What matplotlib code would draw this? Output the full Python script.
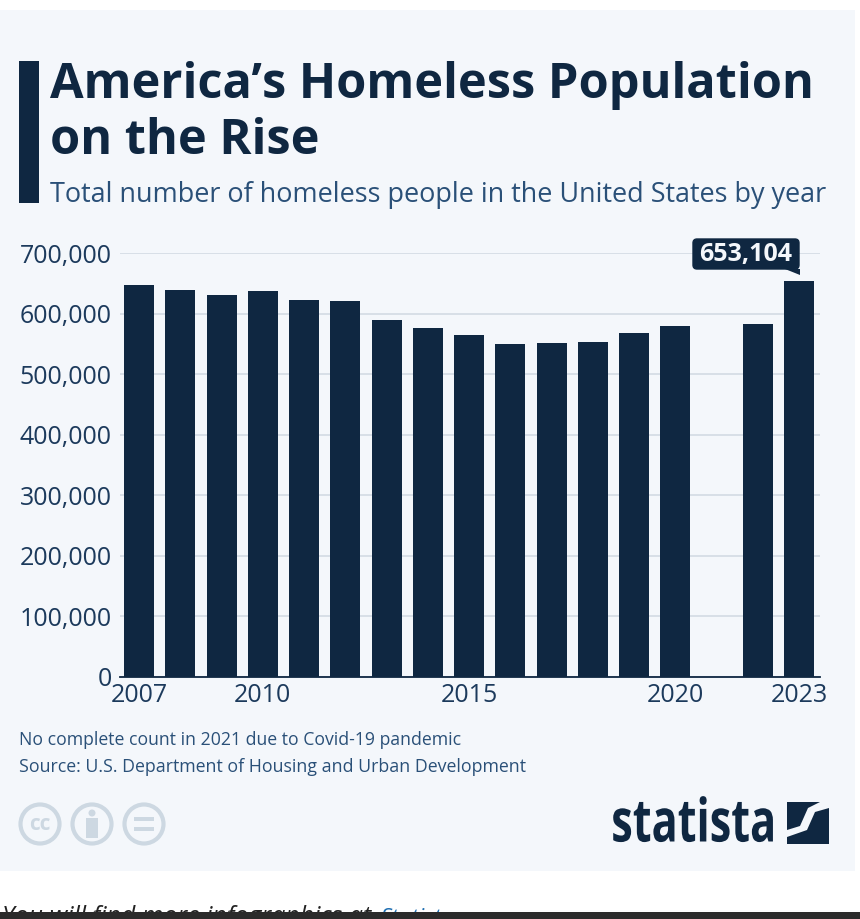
import matplotlib
matplotlib.use("Agg")
import matplotlib.pyplot as plt
from matplotlib.patches import Rectangle, FancyBboxPatch, Polygon, Circle
from matplotlib.patheffects import AbstractPathEffect
from matplotlib.transforms import Affine2D

plt.rcParams['font.family'] = ['Open Sans', 'DejaVu Sans']

years = [2007, 2008, 2009, 2010, 2011, 2012, 2013, 2014, 2015, 2016, 2017, 2018, 2019, 2020, 2022, 2023]
homeless = [647000, 639000, 630000, 637000, 623000, 621000, 590000, 576000, 565000, 550000, 551000, 553000, 568000, 580000, 582000, 653104]
y_ticks = [0, 100000, 200000, 300000, 400000, 500000, 600000, 700000]
x_ticks = [2007, 2010, 2015, 2020, 2023]
subtitle = "Total number of homeless people in the United States by year"
note = "No complete count in 2021 due to Covid-19 pandemic"
source = "Source: U.S. Department of Housing and Urban Development"
callout = "653,104"

W, H = 860, 919
NAVY = "#0f2741"
BLUE = "#2a5078"
AXTXT = "#1c3a5c"
BG = "#f4f7fb"
GRID = "#d3dbe4"
ICON = "#cdd8e2"


class Squeeze(AbstractPathEffect):
    """Narrow a text horizontally about a pixel column, keeping it a text."""

    def __init__(self, x0, sx):
        super().__init__()
        self.x0, self.sx = x0, sx

    def draw_path(self, renderer, gc, tpath, affine, rgbFace=None):
        squeeze = Affine2D().translate(-self.x0, 0).scale(self.sx, 1).translate(self.x0, 0)
        renderer.draw_path(gc, tpath, affine + squeeze, rgbFace)


fig = plt.figure(figsize=(W / 100, H / 100), dpi=100, facecolor="white")
bg = fig.add_axes([0, 0, 1, 1])
bg.set_xlim(0, W)
bg.set_ylim(H, 0)
bg.axis("off")

bg.add_patch(Rectangle((0, 10), 855, 860.5, fc=BG, ec="none"))
bg.add_patch(Rectangle((19, 61), 20, 142, fc=NAVY, ec="none"))
bg.text(50, 85, "America\u2019s Homeless Population", fontsize=35.1, fontweight="bold", color=NAVY, va="center")
bg.text(50, 141, "on the Rise", fontsize=35.1, fontweight="bold", color=NAVY, va="center")
bg.text(50, 195, subtitle, fontsize=19.45, color=BLUE, va="center")
bg.text(19, 740, note, fontsize=12.7, color=BLUE, va="center")
bg.text(19, 767, source, fontsize=12.75, color=BLUE, va="center")

# cc icons
for cx in (40, 92, 144):
    bg.add_patch(Circle((cx, 824), 19.5, fc="none", ec=ICON, lw=3))
bg.text(40, 824, "cc", fontsize=15, fontweight="bold", color=ICON, ha="center", va="center")
bg.add_patch(Circle((92, 813), 3.5, fc=ICON, ec="none"))
bg.add_patch(Rectangle((86, 818), 12, 20, fc=ICON, ec="none"))
bg.add_patch(Rectangle((134, 817), 20, 4, fc=ICON, ec="none"))
bg.add_patch(Rectangle((134, 827), 20, 4, fc=ICON, ec="none"))

# logo
bg.text(776, 826, "statista", fontsize=43, fontweight="bold", color=NAVY, ha="right", va="center",
        path_effects=[Squeeze(776, 0.725)])
bg.add_patch(Rectangle((787, 802), 42, 42, fc=NAVY, ec="none"))
bg.add_patch(Polygon([(829, 802), (829, 808), (815, 812), (807, 830), (787, 837), (787, 830), (800, 826), (808, 808), (820, 802)], fc=BG, ec="none"))

# bottom of the screenshot, cut by the dark bar
clip = Rectangle((0, 880), W, 32, transform=bg.transData)
t1 = bg.text(2, 918, "You will find more infographics at ", fontsize=17.9, style="italic", color="#222222", va="center")
t2 = bg.text(381, 918, "Statista", fontsize=16, style="italic", color="#1f6fb2", va="center")
t1.set_clip_path(clip)
t2.set_clip_path(clip)
bg.add_patch(Rectangle((0, 912), W, 7, fc="#2b2b2b", ec="none", zorder=5))

# chart
left, right, top, bottom = 120, 820, 253, 677
ax = fig.add_axes([left / W, 1 - bottom / H, (right - left) / W, (bottom - top) / H])
ax.patch.set_alpha(0)
step = 41.25
ax.set_xlim(2007 + (left - 139) / step, 2007 + (right - 139) / step)
ax.set_ylim(0, 700000)
ax.bar(years, homeless, width=30 / step, color=NAVY, zorder=3)
ax.set_yticks(y_ticks)
ax.set_yticklabels([f"{v:,}" for v in y_ticks], fontsize=18, color=AXTXT)
ax.set_xticks(x_ticks)
ax.set_xticklabels([str(v) for v in x_ticks], fontsize=18, color=AXTXT)
ax.grid(axis="y", color=GRID, lw=1.2, zorder=0)
ax.grid(axis="x", visible=False)
ax.tick_params(axis="both", length=0)
ax.tick_params(axis="y", pad=6)
ax.tick_params(axis="x", pad=4)
for s in ("top", "left", "right"):
    ax.spines[s].set_visible(False)
ax.spines["bottom"].set_color(NAVY)
ax.spines["bottom"].set_linewidth(1.3)

# callout
bg2 = fig.add_axes([0, 0, 1, 1])
bg2.set_xlim(0, W)
bg2.set_ylim(H, 0)
bg2.axis("off")
bg2.patch.set_alpha(0)
bg2.add_patch(FancyBboxPatch((693, 239), 106, 30, boxstyle="round,pad=0,rounding_size=4", fc=NAVY, ec=NAVY, lw=1))
bg2.add_patch(Polygon([(785, 269), (800, 269), (800, 275)], fc=NAVY, ec="none"))
bg2.text(746, 254, callout, fontsize=18, fontweight="bold", color="#f4f7fb", ha="center", va="center")

fig.savefig("out.png", dpi=100, facecolor="white")
